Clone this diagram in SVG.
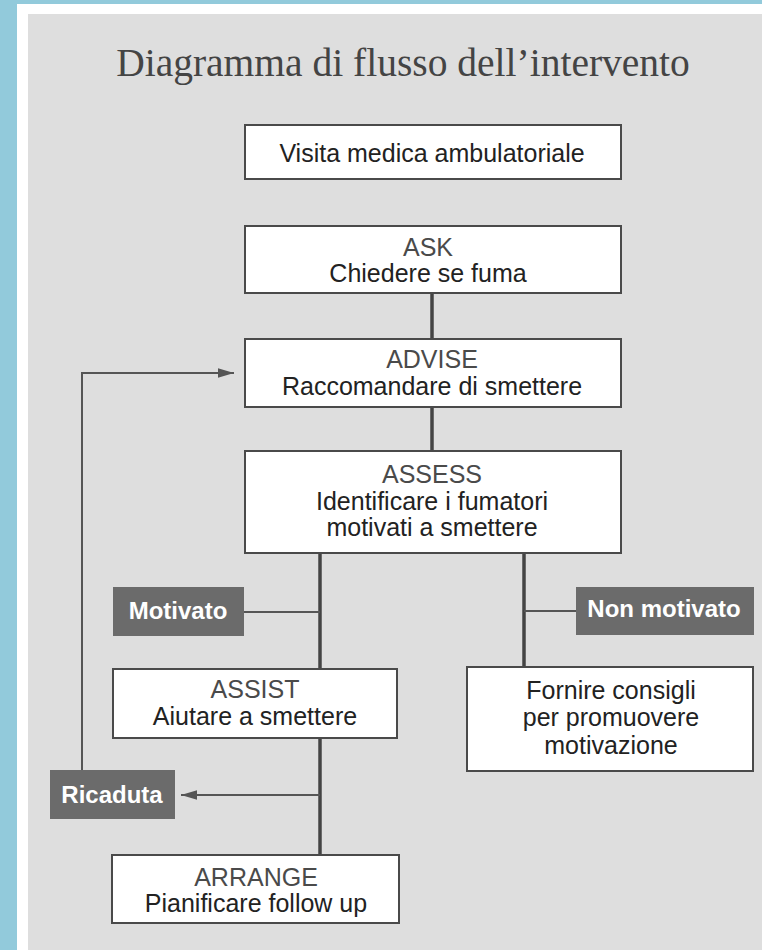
<svg xmlns="http://www.w3.org/2000/svg" width="762" height="950" viewBox="0 0 762 950">
<style>
.box{fill:#fff;stroke:#4a4a4a;stroke-width:2}
.tag{fill:#6b6b6b}
.t{font-family:"Liberation Sans",Arial,sans-serif;font-size:25px;fill:#222;text-anchor:middle}
.h{fill:#4a4a4a}
.w{fill:#fff;font-weight:bold;font-size:24px}
.thick{stroke:#444;stroke-width:3.5;fill:none}
.thin{stroke:#555;stroke-width:2;fill:none}
</style>
<defs>
<marker id="ah" viewBox="0 0 10 10" refX="10" refY="5" markerWidth="8" markerHeight="8" markerUnits="strokeWidth" orient="auto">
<path d="M0,2 L10,5 L0,8 Z" fill="#555"/>
</marker>
</defs>
<rect x="0" y="0" width="762" height="950" fill="#92cadb"/>
<rect x="17" y="4" width="745" height="946" fill="#fff"/>
<rect x="28" y="14" width="734" height="936" fill="#dedede"/>
<text x="403" y="76" font-family="'Liberation Serif','Times New Roman',serif" font-size="39.5" fill="#444" text-anchor="middle">Diagramma di flusso dell’intervento</text>

<g id="connectors">
<line class="thick" x1="432" y1="293" x2="432" y2="339"/>
<line class="thick" x1="432" y1="407" x2="432" y2="451"/>
<line class="thick" x1="320" y1="553" x2="320" y2="669"/>
<line class="thick" x1="524" y1="553" x2="524" y2="667"/>
<line class="thin" x1="244" y1="612" x2="320" y2="612"/>
<line class="thin" x1="524" y1="611" x2="576" y2="611"/>
<line class="thick" x1="320" y1="738" x2="320" y2="855"/>
<line class="thin" x1="320" y1="795" x2="181" y2="795" marker-end="url(#ah)"/>
<polyline class="thin" points="82,770 82,373 234,373" marker-end="url(#ah)"/>
</g>

<g id="visita">
<rect class="box" x="245" y="125" width="376" height="54"/>
<text class="t" x="432" y="162">Visita medica ambulatoriale</text>
</g>
<g id="ask">
<rect class="box" x="245" y="226" width="376" height="67"/>
<text class="t h" x="428" y="256">ASK</text>
<text class="t" x="428" y="282">Chiedere se fuma</text>
</g>
<g id="advise">
<rect class="box" x="245" y="339" width="376" height="68"/>
<text class="t h" x="432" y="368">ADVISE</text>
<text class="t" x="432" y="395">Raccomandare di smettere</text>
</g>
<g id="assess">
<rect class="box" x="245" y="451" width="376" height="102"/>
<text class="t h" x="432" y="483">ASSESS</text>
<text class="t" x="432" y="510">Identificare i fumatori</text>
<text class="t" x="432" y="536">motivati a smettere</text>
</g>
<g id="motivato">
<rect class="tag" x="113" y="587" width="131" height="49"/>
<text class="t w" x="178" y="619">Motivato</text>
</g>
<g id="non-motivato">
<rect class="tag" x="576" y="587" width="178" height="48"/>
<text class="t w" x="664" y="617">Non motivato</text>
</g>
<g id="fornire">
<rect class="box" x="467" y="667" width="286" height="104"/>
<text class="t" x="611" y="699">Fornire consigli</text>
<text class="t" x="611" y="726">per promuovere</text>
<text class="t" x="611" y="754">motivazione</text>
</g>
<g id="assist">
<rect class="box" x="113" y="669" width="284" height="69"/>
<text class="t h" x="255" y="698">ASSIST</text>
<text class="t" x="255" y="725">Aiutare a smettere</text>
</g>
<g id="ricaduta">
<rect class="tag" x="50" y="770" width="125" height="49"/>
<text class="t w" x="112" y="803">Ricaduta</text>
</g>
<g id="arrange">
<rect class="box" x="112" y="855" width="287" height="68"/>
<text class="t h" x="256" y="886">ARRANGE</text>
<text class="t" x="256" y="912">Pianificare follow up</text>
</g>
</svg>
